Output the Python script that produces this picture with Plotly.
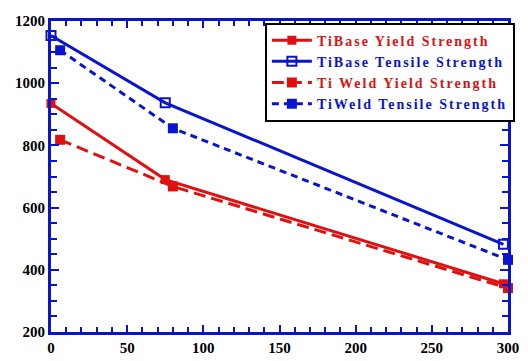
import plotly.graph_objects as go

base_x = [0, 75, 297]
weld_x = [6, 80, 300]
base_yield = [935, 690, 355]
base_tensile = [1153, 937, 482]
weld_yield = [818, 668, 341]
weld_tensile = [1106, 855, 432]

RED = "#e01010"
BLUE = "#0a14d0"

def nm(text, color):
    return f"<span style='color:{color};letter-spacing:2px'><b>{text}</b></span>"

def bold(vals):
    return [f"<b>{v}</b>" for v in vals]

xticks = [0, 50, 100, 150, 200, 250, 300]
yticks = [200, 400, 600, 800, 1000, 1200]

fig = go.Figure()
fig.add_trace(go.Scatter(x=base_x, y=base_yield, mode="lines+markers",
    name=nm("TiBase Yield Strength", RED),
    line=dict(color=RED, width=3), marker=dict(symbol="square", size=9, color=RED)))
fig.add_trace(go.Scatter(x=base_x, y=base_tensile, mode="lines+markers",
    name=nm("TiBase Tensile Strength", BLUE),
    line=dict(color=BLUE, width=3), marker=dict(symbol="square-open", size=9, color=BLUE, line=dict(width=2))))
fig.add_trace(go.Scatter(x=weld_x, y=weld_yield, mode="lines+markers",
    name=nm("Ti Weld Yield Strength", RED),
    line=dict(color=RED, width=3, dash="12px,6px"), marker=dict(symbol="square", size=10, color=RED)))
fig.add_trace(go.Scatter(x=weld_x, y=weld_tensile, mode="lines+markers",
    name=nm("TiWeld Tensile Strength", BLUE),
    line=dict(color=BLUE, width=3, dash="7px,5px"), marker=dict(symbol="square", size=10, color=BLUE)))

font = dict(family="Liberation Serif, Times New Roman, serif", size=15, color="black")
fig.update_traces(cliponaxis=False)
fig.update_layout(
    width=520, height=353,
    margin=dict(l=43, r=20, t=5, b=29),
    plot_bgcolor="white", paper_bgcolor="white",
    font=font,
    showlegend=True,
    legend=dict(x=0.468, y=0.995, xanchor="left", yanchor="top",
                bordercolor="black", borderwidth=2, bgcolor="white",
                font=dict(family="Liberation Serif, serif", size=14),
                tracegroupgap=0, itemwidth=40),
    xaxis=dict(range=[0, 300], tickvals=xticks, ticktext=bold(xticks),
               showgrid=False, zeroline=False, showline=True, linecolor=BLUE, linewidth=3,
               mirror="ticks", ticks="inside", ticklen=7, tickwidth=2, tickcolor=BLUE,
               minor=dict(dtick=10, ticks="inside", ticklen=5, tickwidth=2, tickcolor=BLUE)),
    yaxis=dict(range=[200, 1200], tickvals=yticks, ticktext=bold(yticks),
               showgrid=False, zeroline=False, showline=True, linecolor=BLUE, linewidth=3,
               mirror="ticks", ticks="inside", ticklen=8, tickwidth=2, tickcolor=BLUE,
               minor=dict(dtick=50, ticks="inside", ticklen=6, tickwidth=2, tickcolor=BLUE)),
)
fig.write_html("out.html")
